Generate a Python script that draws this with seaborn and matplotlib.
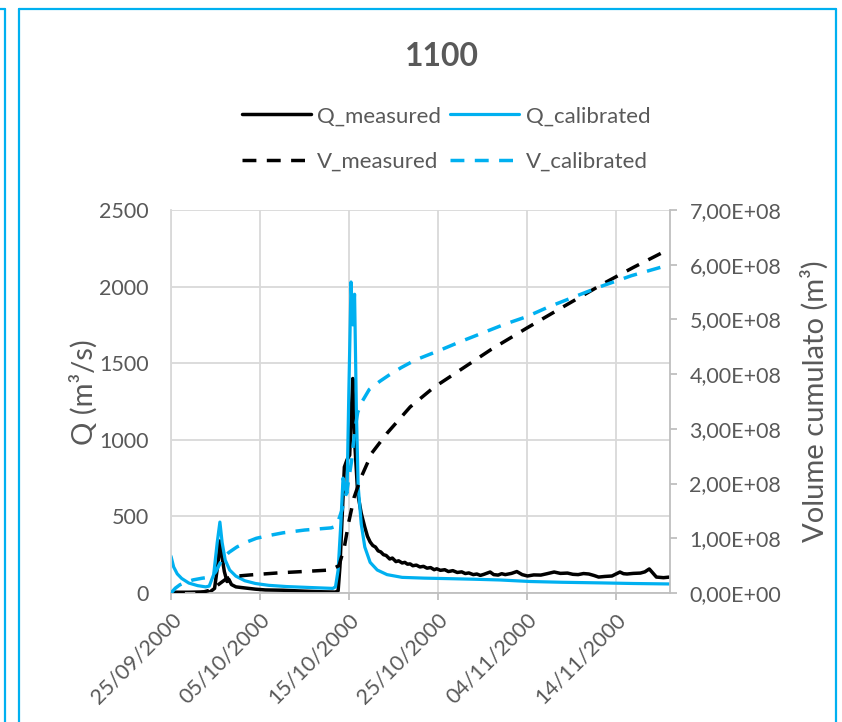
import matplotlib
matplotlib.use("Agg")
import matplotlib.pyplot as plt
import matplotlib.dates as mdates
from matplotlib.lines import Line2D
from matplotlib.ticker import FuncFormatter, MultipleLocator
import numpy as np
import pandas as pd
import seaborn as sns

START = pd.Timestamp("2000-09-25")
BLUE = "#00B0F0"
TEXT_GREY = "#595959"
GRID_GREY = "#D9D9D9"

# Q (m3/s), days since 25/09/2000
q_meas_days = [0, 2, 4.4, 4.9, 5.3, 5.5, 5.7, 6.0, 6.3, 6.5, 6.8, 7.3, 8.3, 9.5, 10.6, 12.6,
               15.0, 17.0, 18.5, 18.8, 19.0, 19.3, 19.5, 19.8, 20.1, 20.3, 20.45, 20.65, 21.0,
               21.4, 21.8, 22.1, 22.4, 22.7, 23.0, 23.3, 23.6, 23.9, 24.2, 24.6, 24.9, 25.3,
               25.6, 26.0, 26.3, 26.6, 26.9, 27.2, 27.6, 28.0, 28.4, 28.8, 29.2, 29.6, 29.9,
               30.3, 30.8, 31.2, 31.7, 32.2, 32.7, 33.1, 33.5, 34.0, 34.4, 34.8, 35.2, 35.9,
               36.3, 36.8, 37.2, 37.6, 38.3, 38.9, 39.5, 40.1, 40.8, 41.6, 42.3, 43.1, 43.8,
               44.6, 45.2, 45.8, 46.4, 47.0, 47.6, 48.1, 48.8, 49.6, 50.5, 50.9, 51.3, 52.0,
               52.8, 53.3, 53.8, 54.6, 55.4, 56.1]
q_measured = [5, 5, 8, 30, 200, 340, 250, 140, 75, 90, 55, 40, 33, 25, 20, 18,
              12, 8, 6, 15, 170, 560, 822, 870, 900, 1200, 1400, 1000, 650,
              520, 430, 370, 333, 310, 300, 275, 268, 250, 245, 222, 228, 205,
              210, 196, 200, 188, 190, 178, 182, 170, 174, 162, 166, 152, 158,
              148, 152, 140, 146, 134, 138, 127, 131, 120, 124, 115, 122, 137,
              120, 117, 126, 120, 128, 140, 120, 111, 118, 117, 126, 137, 128,
              130, 122, 120, 127, 124, 114, 104, 108, 111, 137, 126, 124, 128,
              130, 138, 157, 104, 100, 104]

q_cal_days = [0, 0.3, 0.7, 1.2, 2.0, 3.0, 3.9, 4.3, 4.8, 5.2, 5.5, 5.75, 6.1, 6.6, 7.3, 8.3,
              9.5, 11.0, 13.0, 16.0, 18.2, 18.5, 18.8, 19.1, 19.35, 19.6, 19.8, 20.0, 20.25,
              20.45, 20.65, 20.85, 21.05, 21.4, 21.8, 22.4, 23.2, 24.3, 26.0, 28.5, 31.0,
              34.0, 37.0, 40.4, 44.0, 48.3, 52.0, 56.1]
q_calibrated = [240, 170, 125, 95, 65, 48, 40, 45, 120, 330, 463, 330, 215, 150, 110, 80,
                62, 50, 42, 35, 30, 40, 150, 450, 750, 680, 650, 1300, 2030,
                1750, 1950, 1200, 700, 450, 300, 200, 150, 120, 102, 97, 94,
                90, 85, 75, 70, 66, 62, 59]

# cumulated volume (1e8 m3)
v_meas_days = [0, 3.2, 4.6, 5.3, 6.3, 7.5, 8.9, 12.3, 14.6, 17.9, 18.9, 19.5, 20.0, 20.6,
               21.4, 22.6, 24.3, 26.9, 29.5, 32.2, 36.0, 40.0, 44.0, 48.8, 52.0, 56.1]
v_measured = [0, 0.0, 0.06, 0.15, 0.27, 0.31, 0.33, 0.37, 0.39, 0.42, 0.5, 0.84, 1.3, 1.75,
              2.12, 2.56, 2.92, 3.4, 3.75, 4.04, 4.45, 4.84, 5.22, 5.67, 5.95, 6.29]

v_cal_days = [0, 0.5, 1.0, 1.7, 2.5, 3.5, 4.4, 5.0, 5.7, 6.5, 7.4, 8.5, 9.6, 11.0, 12.6, 15.0,
              18.0, 18.6, 19.2, 19.8, 20.3, 20.7, 21.0, 21.5, 22.3, 23.5, 24.5, 25.9, 27.5,
              30.0, 32.5, 35.0, 37.5, 40.0, 42.5, 45.0, 48.3, 51.8, 56.1]
v_calibrated = [0, 0.09, 0.15, 0.2, 0.24, 0.27, 0.29, 0.38, 0.6, 0.74, 0.84, 0.93, 1.0, 1.05,
                1.1, 1.15, 1.19, 1.22, 1.5, 1.88, 2.4, 3.0, 3.3, 3.5, 3.72, 3.87, 3.98, 4.12,
                4.26, 4.42, 4.59, 4.75, 4.91, 5.05, 5.23, 5.39, 5.6, 5.8, 6.0]


def to_dates(days):
    return START + pd.to_timedelta(np.asarray(days, dtype=float), unit="D")


sns.set_theme(style="white")
plt.rcParams["font.family"] = ["Lato", "DejaVu Sans"]

fig = plt.figure(figsize=(8.42, 7.22), dpi=100)
ax = fig.add_axes([171 / 842, 1 - 593 / 722, 499 / 842, 383 / 722])
ax2 = ax.twinx()

sns.lineplot(x=to_dates(q_meas_days), y=q_measured, ax=ax, color="black", linewidth=2.5,
             label="Q_measured", legend=False, estimator=None, sort=False)
sns.lineplot(x=to_dates(q_cal_days), y=q_calibrated, ax=ax, color=BLUE, linewidth=2.3,
             label="Q_calibrated", legend=False, estimator=None, sort=False)
sns.lineplot(x=to_dates(v_meas_days), y=np.array(v_measured) * 1e8, ax=ax2, color="black",
             linewidth=2.5, linestyle=(0, (4, 3)), label="V_measured", legend=False,
             estimator=None, sort=False)
sns.lineplot(x=to_dates(v_cal_days), y=np.array(v_calibrated) * 1e8, ax=ax2, color=BLUE,
             linewidth=2.5, linestyle=(0, (4, 3)), label="V_calibrated", legend=False,
             estimator=None, sort=False)

ax.set_xlim(START, START + pd.Timedelta(days=56.13))
ax.set_ylim(0, 2500)
ax2.set_ylim(0, 7e8)
ax.yaxis.set_major_locator(MultipleLocator(500))
ax2.yaxis.set_major_locator(MultipleLocator(1e8))
ax2.yaxis.set_major_formatter(FuncFormatter(lambda v, p: f"{v:.2E}".replace(".", ",")))

ax.set_xticks(pd.date_range(START, periods=6, freq="10D"))
ax.xaxis.set_major_formatter(mdates.DateFormatter("%d/%m/%Y"))
for lbl in ax.get_xticklabels():
    lbl.set_rotation(45)
    lbl.set_ha("right")
    lbl.set_rotation_mode("anchor")
ax.set_xlabel("")
ax2.set_xlabel("")

ax.grid(True, color=GRID_GREY, linewidth=1.3)
ax.set_axisbelow(True)
ax.spines["top"].set_visible(False)
ax2.spines["top"].set_visible(False)
ax.spines["left"].set_color(GRID_GREY)
ax.spines["bottom"].set_color("#BFBFBF")
ax.spines["right"].set_visible(False)
ax2.spines["left"].set_visible(False)
ax2.spines["bottom"].set_visible(False)
ax2.spines["right"].set_color("#BFBFBF")
for sp in ax.spines.values():
    sp.set_linewidth(1.3)
ax2.spines["right"].set_linewidth(1.3)

ax.tick_params(axis="y", length=0, pad=16, labelsize=15.5, labelcolor=TEXT_GREY)
ax.tick_params(axis="x", bottom=True, length=5, width=1.3, color="#BFBFBF", pad=7,
               labelsize=15.5, labelcolor=TEXT_GREY)
ax2.tick_params(axis="y", right=True, length=5, width=1.3, color="#BFBFBF", pad=9,
                labelsize=15.5, labelcolor=TEXT_GREY)

ax.set_ylabel("Q (m³/s)", fontsize=21, color=TEXT_GREY)
ax.yaxis.set_label_coords(-0.146, 0.525)
ax2.set_ylabel("Volume cumulato (m³)", fontsize=21, color=TEXT_GREY)
ax2.yaxis.set_label_coords(1.262, 0.5)

fig.text(442 / 842, 1 - 56 / 722, "1100", ha="center", va="center", fontsize=23,
         fontweight="bold", color=TEXT_GREY)

handles = [ax.lines[0], ax2.lines[0], ax.lines[1], ax2.lines[1]]
fig.legend(handles=handles, labels=[h.get_label() for h in handles], ncol=2,
           loc="center", bbox_to_anchor=(446 / 842, 1 - 139 / 722), frameon=False,
           fontsize=16, labelcolor=TEXT_GREY, handlelength=3.1, handletextpad=0.3,
           columnspacing=0.4, labelspacing=1.15)

# chart frame (light blue border)
frame_kw = dict(color=BLUE, linewidth=1.6, transform=fig.transFigure)
fig.add_artist(Line2D([18.5 / 842, 836 / 842], [1 - 8.5 / 722, 1 - 8.5 / 722], **frame_kw))
fig.add_artist(Line2D([18.5 / 842, 18.5 / 842], [1 - 8.5 / 722, 0], **frame_kw))
fig.add_artist(Line2D([836 / 842, 836 / 842], [1 - 8.5 / 722, 0], **frame_kw))
fig.add_artist(Line2D([0, 5 / 842], [1 - 8.5 / 722, 1 - 8.5 / 722], **frame_kw))
fig.add_artist(Line2D([5 / 842, 5 / 842], [1 - 8.5 / 722, 0], **frame_kw))

fig.savefig("out.png", dpi=100)
